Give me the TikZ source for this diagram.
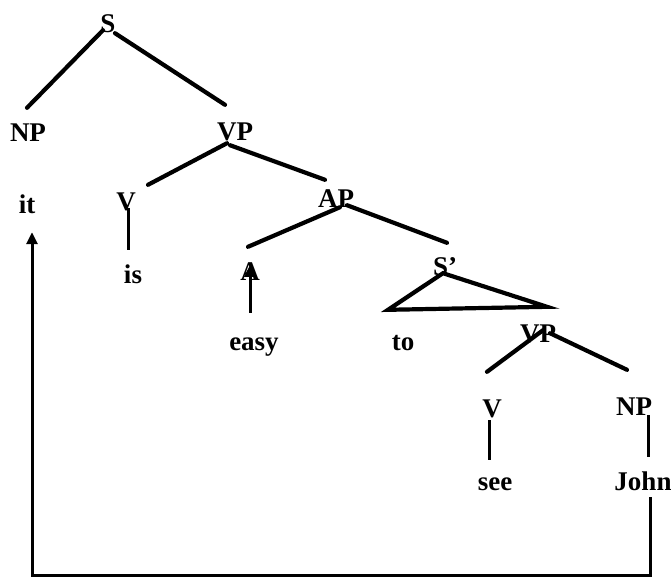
\documentclass[tikz,border=0pt]{standalone}
\usepackage{fontspec}
\newfontfamily\lblfont{Liberation Serif}[BoldFont={Liberation Serif Bold}]
\usetikzlibrary{calc,arrows.meta}
\begin{document}
\begin{tikzpicture}[x=1pt,y=-1pt,
  lbl/.style={inner sep=0pt,anchor=base,text height=18pt,text depth=0pt,
              font=\lblfont\bfseries\fontsize{27}{30}\selectfont},
  branch/.style={line width=4.2pt,line cap=round},
  stem/.style={line width=3pt},
  arr/.style={line width=3pt,-{Triangle[length=12pt,width=11pt]}}]
\useasboundingbox (0,0) rectangle (671,584);

% category and word labels (placed on their baselines)
\node[lbl] (S)    at (108,32)  {S};
\node[lbl] (NP)   at (28,141)  {NP};
\node[lbl] (VP)   at (235,140) {VP};
\node[lbl] (it)   at (27,213)  {it};
\node[lbl] (V)    at (126,210) {V};
\node[lbl] (AP)   at (336,207) {AP};
\node[lbl] (is)   at (133,283) {is};
\node[lbl] (A)    at (250,280) {A};
\node[lbl] (Sbar) at (445,275) {S’};
\node[lbl] (easy) at (254,350) {easy};
\node[lbl] (to)   at (403,350) {to};
\node[lbl] (VPb)  at (538,342) {VP};
\node[lbl] (Vb)   at (492,417) {V};
\node[lbl] (NPb)  at (634,415) {NP};
\node[lbl] (see)  at (495,490) {see};
\node[lbl] (John) at (643,490) {John};

% tree branches
\draw[branch] ($(S.south)+(-5,-2)$) -- ($(NP.north)+(-1,-15)$);
\draw[branch] ($(S.south)+(7,1)$)   -- ($(VP.north)+(-10,-17)$);
\draw[branch] ($(VP.south)+(-8,3)$) -- ($(V.north)+(22,-7)$);
\draw[branch] ($(VP.south)+(-5,5)$) -- ($(AP.north)+(-11,-9)$);
\draw[stem]   ($(V.south)+(2,-2)$)  -- ($(is.north)+(-5,-15)$);
\draw[branch] ($(AP.south)+(4,0)$)  -- ($(A.north)+(-2,-15)$);
\draw[branch] ($(AP.south)+(11,-2)$) -- ($(Sbar.north)+(2,-14)$);
\draw[branch,line join=miter] ($(Sbar.south)+(-2,-2)$) -- ($(to.north)+(-15,-22)$)
  -- ($(VPb.north)+(9,-17)$) -- cycle;
\draw[branch] ($(VPb.south)+(5,-12)$) -- ($(Vb.north)+(-5,-27)$);
\draw[branch] ($(VPb.south)+(12,-9)$) -- ($(NPb.north)+(-7,-27)$);
\draw[stem]   ($(Vb.south)+(-3,3)$)  -- ($(see.north)+(-6,-12)$);
\draw[stem]   ($(NPb.south)+(14,0)$) -- ($(John.north)+(5,-15)$);

% movement arrows
\draw[arr] ($(easy.north)+(-4,-19)$) -- ($(A.north)+(0,3)$);
\draw[arr] ($(John.south)+(7,7)$) -- ++(0,78) -| ($(it.south)+(5,19)$);
\end{tikzpicture}
\end{document}
